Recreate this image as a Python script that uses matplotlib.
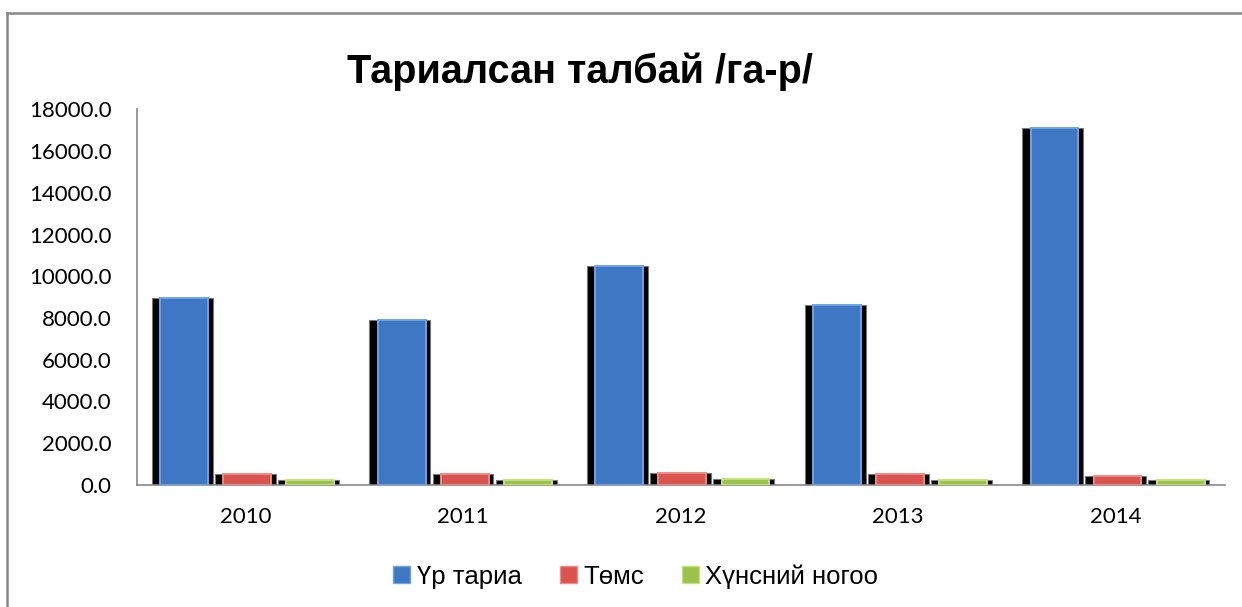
import numpy as np
import matplotlib.pyplot as plt
from matplotlib.lines import Line2D
from matplotlib.patches import Patch

years = ["2010", "2011", "2012", "2013", "2014"]
series = ["Үр тариа", "Төмс", "Хүнсний ногоо"]
ur_taria = [8950, 7900, 10500, 8600, 17100]
tums = [520, 540, 560, 540, 420]
nogoo = [250, 240, 270, 260, 230]

colors = ["#3E78C4", "#D9534F", "#9BC24A"]
edge_light = ["#6FA3E6", "#F08A86", "#C4E27A"]

fig = plt.figure(figsize=(12.42, 6.07), dpi=100)
ax = fig.add_axes([0.110, 0.201, 0.876, 0.619])

x = np.arange(len(years))
w = 0.29
offsets = [-w, 0, w]
for vals, off, c, lc in zip([ur_taria, tums, nogoo], offsets, colors, edge_light):
    # dark outline/shadow to mimic the 3D bevel
    ax.bar(x + off, vals, width=w - 0.01, color="black", edgecolor="#777777",
           linewidth=0.8, zorder=2)
    ax.bar(x + off + 0.008, vals, width=w - 0.07, color=c, edgecolor=lc,
           linewidth=1.4, zorder=3)

ax.set_xlim(-0.5, len(years) - 0.5)
ax.set_ylim(0, 18000)
ax.set_yticks(np.arange(0, 18001, 2000))
ax.set_yticklabels(["%.1f" % v for v in np.arange(0, 18001, 2000)],
                   fontsize=16, family="Lato")
ax.set_xticks(x)
ax.set_xticklabels(years, fontsize=16, family="Lato")
ax.tick_params(axis="both", length=0)
ax.tick_params(axis="x", pad=16)
ax.tick_params(axis="y", pad=18)
for s in ["top", "right"]:
    ax.spines[s].set_visible(False)
ax.spines["left"].set_color("#888888")
ax.spines["bottom"].set_color("#888888")
ax.spines["left"].set_linewidth(1.2)
ax.spines["bottom"].set_linewidth(1.2)

fig.text(0.467, 0.882, "Тариалсан талбай /га-р/", ha="center", va="center",
         fontsize=28.5, fontweight="bold", family="Liberation Sans")

handles = [Patch(facecolor=c, edgecolor=lc, linewidth=1) for c, lc in zip(colors, edge_light)]
fig.legend(handles, series, loc="center", bbox_to_anchor=(0.512, 0.05), ncol=3,
           frameon=False, handlelength=0.65, handleheight=0.65, handletextpad=0.25,
           columnspacing=1.5, prop={"family": "Liberation Sans", "size": 18.5})

# outer chart frame (left and top edges visible)
fig.add_artist(Line2D([7 / 1242, 7 / 1242], [0, 1 - 13 / 607], color="#888888", lw=1.8))
fig.add_artist(Line2D([7 / 1242, 1], [1 - 13 / 607, 1 - 13 / 607], color="#888888", lw=1.8))

plt.savefig("out.png", dpi=100)
